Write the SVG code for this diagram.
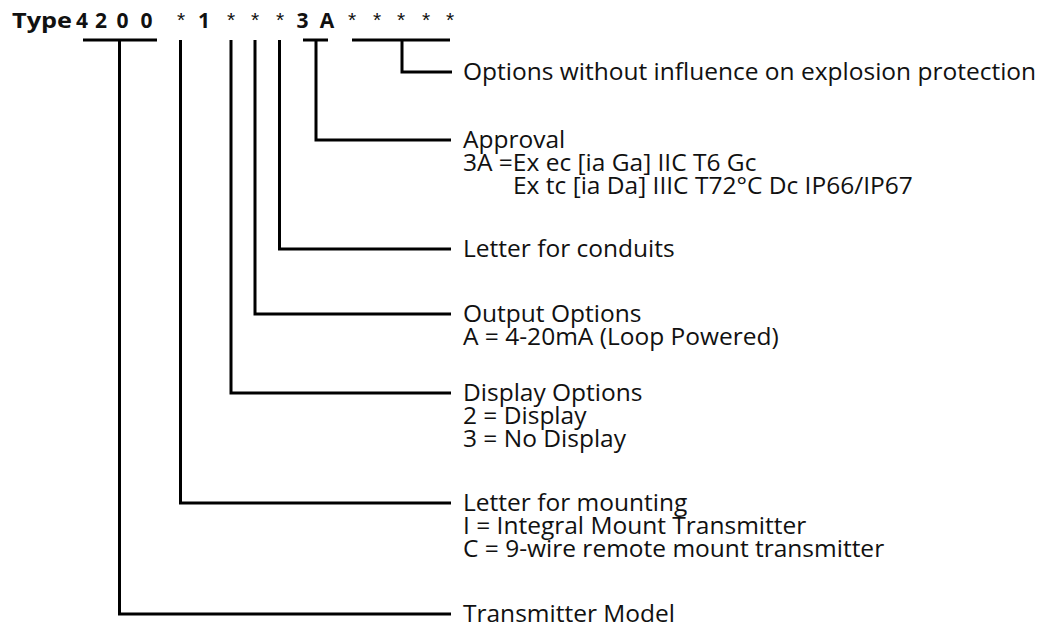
<svg xmlns="http://www.w3.org/2000/svg" width="1048" height="627" viewBox="0 0 1048 627">
<style>
.t{font-family:"Open Sans","Liberation Sans",sans-serif;font-size:24.5px;fill:#111}
.h{font-family:"Open Sans","Liberation Sans",sans-serif;font-size:21px;font-weight:bold;fill:#111}
.s{font-family:"Liberation Sans",sans-serif;font-size:21px;fill:#111}
.c{fill:none;stroke:#000;stroke-width:3;stroke-linecap:butt;stroke-linejoin:miter}
</style>
<rect width="1048" height="627" fill="#fff"/>
<g id="header">
<text class="h" x="12" y="28" textLength="60" lengthAdjust="spacingAndGlyphs">Type</text>
<text class="h" text-anchor="middle" y="28"><tspan x="82">4</tspan><tspan x="101">2</tspan><tspan x="122.5">0</tspan><tspan x="146.5">0</tspan><tspan x="204">1</tspan><tspan x="302.5">3</tspan><tspan x="327">A</tspan></text>
<text class="s" text-anchor="middle" y="27"><tspan x="181">*</tspan><tspan x="231">*</tspan><tspan x="255">*</tspan><tspan x="280">*</tspan><tspan x="352">*</tspan><tspan x="377">*</tspan><tspan x="401">*</tspan><tspan x="426">*</tspan><tspan x="450">*</tspan></text>
</g>
<g id="connectors">
<path class="c" d="M83 40H157M119.5 40V614H451"/>
<path class="c" d="M180.5 40V503H451"/>
<path class="c" d="M231 40V393H451"/>
<path class="c" d="M255 40V314H451"/>
<path class="c" d="M279.5 40V249H451"/>
<path class="c" d="M303 40H328M316 40V140H451"/>
<path class="c" d="M352 40H450M402 40V72H452"/>
</g>
<g id="node-options">
<text class="t" x="463" y="80">Options without influence on explosion protection</text>
</g>
<g id="node-approval">
<text class="t" x="463" y="148">Approval</text>
<text class="t" x="463" y="171">3A =Ex ec [ia Ga] IIC T6 Gc</text>
<text class="t" x="513" y="194">Ex tc [ia Da] IIIC T72°C Dc IP66/IP67</text>
</g>
<g id="node-conduits">
<text class="t" x="463" y="257">Letter for conduits</text>
</g>
<g id="node-output">
<text class="t" x="463" y="322">Output Options</text>
<text class="t" x="463" y="345">A = 4-20mA (Loop Powered)</text>
</g>
<g id="node-display">
<text class="t" x="463" y="401">Display Options</text>
<text class="t" x="463" y="424">2 = Display</text>
<text class="t" x="463" y="447">3 = No Display</text>
</g>
<g id="node-mounting">
<text class="t" x="463" y="511">Letter for mounting</text>
<text class="t" x="463" y="534">I = Integral Mount Transmitter</text>
<text class="t" x="463" y="557">C = 9-wire remote mount transmitter</text>
</g>
<g id="node-model">
<text class="t" x="463" y="622">Transmitter Model</text>
</g>
</svg>
